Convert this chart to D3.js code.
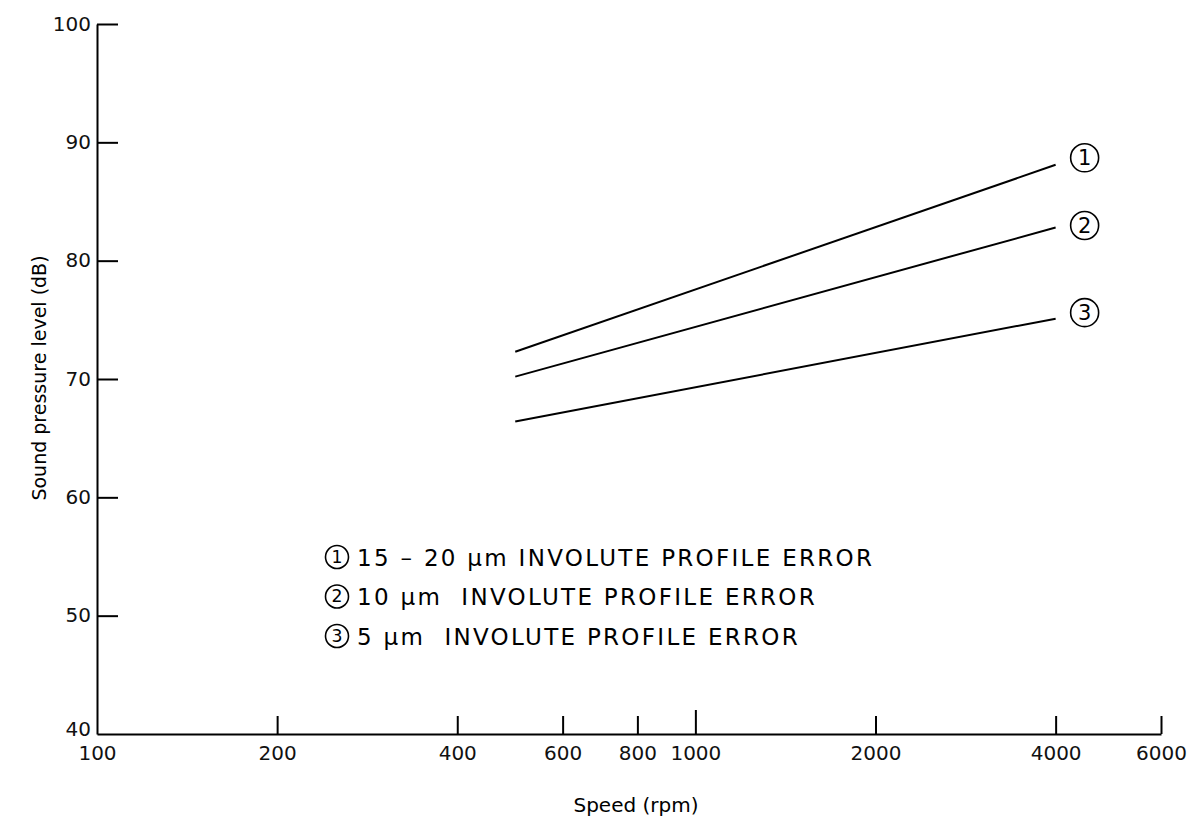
<!DOCTYPE html>
<html>
<head>
<meta charset="utf-8">
<script src="https://cdn.jsdelivr.net/npm/d3@7"></script>
<style>
  body { margin: 0; background: #fff; }
  svg { font-family: "DejaVu Sans", "Liberation Sans", sans-serif; }
  .axis path, .axis line { stroke: #000; stroke-width: 2; }
  .axis text { font-size: 20px; fill: #111; font-family: "DejaVu Sans", sans-serif; }
</style>
</head>
<body>
<svg width="1196" height="819"></svg>
<script>
// data
var speeds = [500, 4000];
var series1 = [72.3, 88.1];   // 15 - 20 um
var series2 = [70.2, 82.8];   // 10 um
var series3 = [66.4, 75.1];   // 5 um
var seriesNames = ["1", "2", "3"];
var legendLabels = [
  "15 \u2013 20 \u03bcm INVOLUTE PROFILE ERROR",
  "10 \u03bcm  INVOLUTE PROFILE ERROR",
  "5 \u03bcm  INVOLUTE PROFILE ERROR"
];
var xTicks = [100, 200, 400, 600, 800, 1000, 2000, 4000, 6000];
var yTicks = [40, 50, 60, 70, 80, 90, 100];

var svg = d3.select("svg");

var x = d3.scaleLog().domain([100, 6000]).range([97, 1161]),
    y = d3.scaleLinear().domain([40, 100]).range([734, 24]);

// y axis, ticks pointing inward
var gy = svg.append("g")
  .attr("class", "axis")
  .attr("transform", "translate(97,0)")
  .call(d3.axisLeft(y).tickValues(yTicks).tickSizeInner(-21).tickSizeOuter(0).tickPadding(6));
gy.selectAll("text").attr("dy", "0.3em");
gy.selectAll(".tick").filter(function(d) { return d === 40; }).select("line").remove();
gy.selectAll(".tick").filter(function(d) { return d === 40; }).select("text").attr("dy", "0.05em");

// x axis, ticks pointing up
var gx = svg.append("g")
  .attr("class", "axis")
  .attr("transform", "translate(0,734)")
  .call(d3.axisBottom(x).tickValues(xTicks).tickFormat(d3.format("d"))
    .tickSizeInner(-18).tickSizeOuter(0));
gx.selectAll(".tick line").attr("y2", function(d) { return d === 1000 ? -24 : (d === 100 ? 0 : -18); });
gx.selectAll("text").attr("y", 19).attr("dy", "0.35em").style("font-size", "20px");

svg.append("text")
  .attr("x", 636).attr("y", 812)
  .attr("text-anchor", "middle")
  .style("font-size", "20px")
  .text("Speed (rpm)");

svg.append("text")
  .attr("transform", "translate(46,378) rotate(-90)")
  .attr("text-anchor", "middle")
  .style("font-size", "19px")
  .text("Sound pressure level (dB)");

var series = [series1, series2, series3];
var line = d3.line()
  .x(function(d, i) { return x(speeds[i]); })
  .y(function(d) { return y(d); });

svg.selectAll(".series").data(series)
  .enter().append("path")
  .attr("class", "series")
  .attr("fill", "none")
  .attr("stroke", "#000")
  .attr("stroke-width", 2)
  .attr("d", line);

function circled(g, cx, cy, r, label) {
  g.append("circle")
    .attr("cx", cx).attr("cy", cy).attr("r", r)
    .attr("fill", "none").attr("stroke", "#000").attr("stroke-width", 1.6);
  g.append("text")
    .attr("x", cx).attr("y", cy + r * 0.52)
    .attr("text-anchor", "middle")
    .style("font-size", (r * 1.5) + "px")
    .text(label);
}

// end-of-line markers
var markerShift = [-7, -2, -6];
series.forEach(function(s, i) {
  var last = s.length - 1;
  circled(svg, x(speeds[last]) + 29, y(s[last]) + markerShift[i], 14, seriesNames[i]);
});

// legend
var legend = svg.append("g");
legendLabels.forEach(function(t, i) {
  var ly = 557 + i * 39.5;
  circled(legend, 337, ly, 11.5, seriesNames[i]);
  legend.append("text")
    .attr("x", 357).attr("y", ly + 8.5)
    .attr("xml:space", "preserve")
    .style("white-space", "pre")
    .style("font-size", "23px")
    .style("letter-spacing", "2.3px")
    .text(t);
});
</script>
</body>
</html>
